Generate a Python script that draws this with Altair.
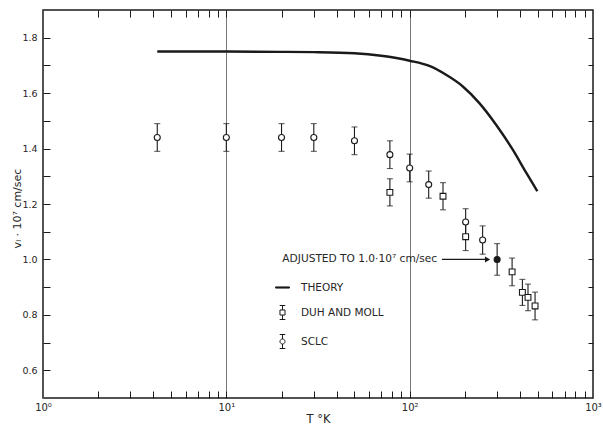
import altair as alt
import pandas as pd

# ---------------- data ----------------
# SCLC (open circles)
sclc_T = [4.2, 10, 20, 30, 50, 78, 100, 127, 202, 250]
sclc_v = [1.44, 1.44, 1.44, 1.44, 1.428, 1.378, 1.33, 1.27, 1.135, 1.07]
sclc_err = [0.05, 0.05, 0.05, 0.05, 0.05, 0.05, 0.05, 0.049, 0.048, 0.051]

# Duh and Moll (open squares)
dm_T = [78, 152, 202, 362, 412, 442, 483]
dm_v = [1.242, 1.228, 1.082, 0.955, 0.881, 0.863, 0.832]
dm_err = [0.049, 0.049, 0.05, 0.05, 0.047, 0.048, 0.05]

# point adjusted to 1.0e7 cm/sec (filled)
adj_T = [300]
adj_v = [1.0]
adj_err = [0.057]

# theory curve
theory_T = [4.2, 10, 20, 30, 50, 70, 100, 128, 158, 195, 240, 296, 365, 433, 497]
theory_v = [1.75, 1.75, 1.749, 1.748, 1.744, 1.735, 1.717, 1.698, 1.666, 1.624,
            1.564, 1.486, 1.396, 1.312, 1.246]

legend_labels = ["THEORY", "DUH AND MOLL", "SCLC"]
x_label_values = [1, 10, 100, 1000]
x_minor_ticks = [2, 3, 4, 5, 6, 7, 8, 9, 10, 20, 30, 40, 50, 60, 70, 80, 90, 100,
                 200, 300, 400, 500, 600, 700, 800, 900]
y_label_values = [0.6, 0.8, 1.0, 1.2, 1.4, 1.6, 1.8]
y_minor_ticks = [0.6, 0.7, 0.8, 0.9, 1.0, 1.1, 1.2, 1.3, 1.4, 1.5, 1.6, 1.7, 1.8]
annotation_text = "ADJUSTED TO 1.0·10⁷ cm/sec"
arrow_from_T = [150]
arrow_to_T = [266]

# ---------------- tables ----------------
sclc_df = pd.DataFrame({"T": sclc_T, "v": sclc_v, "err": sclc_err})
dm_df = pd.DataFrame({"T": dm_T, "v": dm_v, "err": dm_err})
adj_df = pd.DataFrame({"T": adj_T, "v": adj_v, "err": adj_err})
theory_df = pd.DataFrame({"T": theory_T, "v": theory_v})
err_df = pd.concat([sclc_df, dm_df, adj_df], ignore_index=True)
err_df["lo"] = err_df["v"] - err_df["err"]
err_df["hi"] = err_df["v"] + err_df["err"]
legend_df = pd.DataFrame({"series": legend_labels})
arrow_df = pd.DataFrame({"T0": arrow_from_T, "T1": arrow_to_T, "v": adj_v})

# ---------------- styling ----------------
W, H = 550, 388
FONT = "DejaVu Sans"
INK = "#1a1a1a"
TXT = "#262626"

xs = alt.Scale(type="log", domain=[1, 1000], nice=False)
ys = alt.Scale(domain=[0.5, 1.9], nice=False, zero=False)

ax_x_labels = alt.Axis(
    orient="bottom", values=x_label_values,
    labelExpr="'10' + ['⁰','¹','²','³'][round(log(datum.value)/LN10)]",
    ticks=False, tickSize=0, domain=False, grid=True, gridColor="#555",
    gridWidth=0.8, labelFlush=False, labelPadding=4, labelFontSize=10,
    title="T °K", titleFontSize=11.5, titleFontWeight="normal",
    titleY=21, titleBaseline="middle",
)
ax_y_labels = alt.Axis(
    orient="left", values=y_label_values, format=".1f",
    ticks=False, tickSize=0, domain=False, grid=False, labelFlush=False,
    labelPadding=6, labelFontSize=9.5,
    title="vₗ · 10⁷ cm/sec", titleFontSize=11, titleFontWeight="normal",
    titleX=-26, titleY=H / 2 + 4, titleBaseline="middle",
)
# inward ticks: axes placed on the opposite edge with a negative offset
ax_x_ticks_bottom = alt.Axis(orient="top", offset=-H, values=x_minor_ticks,
                             labels=False, domain=False, grid=False,
                             tickSize=7, title=None)
ax_x_ticks_top = alt.Axis(orient="bottom", offset=-H, values=x_minor_ticks,
                          labels=False, domain=False, grid=False,
                          tickSize=7, title=None)
ax_y_ticks_left = alt.Axis(orient="right", offset=-W, values=y_minor_ticks,
                           labels=False, domain=False, grid=False,
                           tickSize=7, title=None)
ax_y_ticks_right = alt.Axis(orient="left", offset=-W, values=y_minor_ticks,
                            labels=False, domain=False, grid=False,
                            tickSize=5, title=None)

theory = alt.Chart(theory_df).mark_line(
    color=INK, strokeWidth=2.4, interpolate="monotone"
).encode(
    x=alt.X("T:Q", scale=xs, axis=ax_x_labels),
    y=alt.Y("v:Q", scale=ys, axis=ax_y_labels),
)

errbars = alt.Chart(err_df).mark_errorbar(
    ticks={"size": 6, "thickness": 1.1, "color": INK},
    thickness=1.1, color=INK,
).encode(
    x=alt.X("T:Q", scale=xs, axis=None),
    y=alt.Y("lo:Q", scale=ys, axis=None),
    y2="hi:Q",
)

sclc_pts = alt.Chart(sclc_df).mark_point(
    shape="circle", size=36, filled=True, fill="white", stroke=INK,
    strokeWidth=1.1, opacity=1,
).encode(
    x=alt.X("T:Q", scale=xs, axis=ax_x_ticks_top),
    y=alt.Y("v:Q", scale=ys, axis=ax_y_ticks_right),
)

dm_pts = alt.Chart(dm_df).mark_point(
    shape="square", size=34, filled=True, fill="white", stroke=INK,
    strokeWidth=1.1, opacity=1,
).encode(
    x=alt.X("T:Q", scale=xs, axis=ax_x_ticks_bottom),
    y=alt.Y("v:Q", scale=ys, axis=ax_y_ticks_left),
)

adj_pts = alt.Chart(adj_df).mark_point(
    shape="circle", size=36, filled=True, fill=INK, stroke=INK,
    strokeWidth=1.1, opacity=1,
).encode(
    x=alt.X("T:Q", scale=xs, axis=None),
    y=alt.Y("v:Q", scale=ys, axis=None),
)

annot = alt.Chart(adj_df).mark_text(
    align="right", baseline="middle", dx=-60, font=FONT, fontSize=10.6,
    color=TXT,
).encode(
    x=alt.X("T:Q", scale=xs, axis=None),
    y=alt.Y("v:Q", scale=ys, axis=None),
    text=alt.value(annotation_text),
)

arrow_line = alt.Chart(arrow_df).mark_rule(color=INK, strokeWidth=1.2).encode(
    x=alt.X("T0:Q", scale=xs, axis=None),
    x2="T1:Q",
    y=alt.Y("v:Q", scale=ys, axis=None),
)
arrow_head = alt.Chart(arrow_df).mark_point(
    shape="triangle-right", size=36, filled=True, color=INK, opacity=1,
).encode(
    x=alt.X("T1:Q", scale=xs, axis=None),
    y=alt.Y("v:Q", scale=ys, axis=None),
)

legend_paths = [
    "M-1,-0.08H1V0.08H-1Z",
    "M-0.36,-0.36H0.36V0.36H-0.36Z M0,-0.36V-1 M0,0.36V1 M-0.4,-1H0.4 M-0.4,1H0.4",
    "M-0.36,0A0.36,0.36 0 1,0 0.36,0A0.36,0.36 0 1,0 -0.36,0Z "
    "M0,-0.36V-1 M0,0.36V1 M-0.4,-1H0.4 M-0.4,1H0.4",
]
leg = alt.Legend(
    title=None, orient="none", legendX=232, legendY=270, direction="vertical",
    padding=0, symbolSize=196, symbolStrokeColor=INK, symbolStrokeWidth=1,
    symbolOpacity=1, labelFont=FONT, labelFontSize=10.5, labelColor=TXT,
    labelOffset=11, rowPadding=10,
)
legend_layer = alt.Chart(legend_df).mark_point(
    filled=True, strokeWidth=1,
).encode(
    shape=alt.Shape("series:N", scale=alt.Scale(domain=legend_labels, range=legend_paths), legend=leg),
    fill=alt.Fill("series:N", scale=alt.Scale(domain=legend_labels, range=[INK, "white", "white"]), legend=leg),
    stroke=alt.Stroke("series:N", scale=alt.Scale(domain=legend_labels, range=[INK, INK, INK]), legend=leg),
).transform_filter("false")

chart = alt.layer(
    theory, errbars, sclc_pts, dm_pts, adj_pts, annot, arrow_line, arrow_head,
    legend_layer,
).resolve_scale(
    x="shared", y="shared", shape="independent", fill="independent",
    stroke="independent",
).resolve_axis(
    x="independent", y="independent"
).properties(
    width=W, height=H,
    autosize=alt.AutoSizeParams(type="none"),
    padding={"left": 43, "top": 10, "right": 10, "bottom": 28},
    background="white",
).configure_view(
    stroke=INK, strokeWidth=1.5
).configure_axis(
    labelFont=FONT, titleFont=FONT, labelColor=TXT, titleColor=TXT,
    tickColor=INK, tickWidth=1,
)

chart.save("out.html", embed_options={"renderer": "svg", "actions": False})
